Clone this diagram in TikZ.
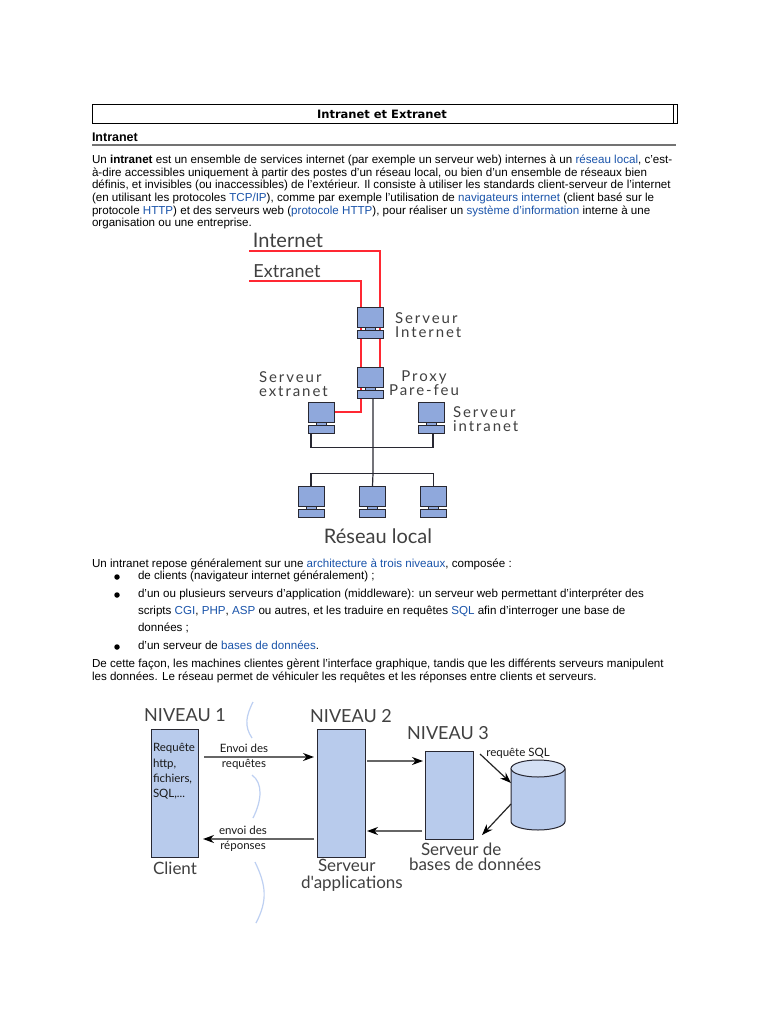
\documentclass[tikz,border=0pt]{standalone}
\usepackage{fontspec}
\setmainfont{Liberation Sans}
\newfontfamily\titrefont{DejaVu Sans}
\newfontfamily\fontmain{Lato}
\newfontfamily\fontlarge[LetterSpace=13]{Lato}
\usepackage{xcolor}
\usetikzlibrary{arrows.meta, positioning, shapes.geometric, calc}
\definecolor{lienbleu}{RGB}{26, 84, 170}
\definecolor{ecranbleu}{RGB}{143, 168, 220}
\definecolor{boitebleu}{RGB}{184, 203, 236}
\definecolor{vaguebleu}{RGB}{190, 208, 242}
\definecolor{trait}{RGB}{40, 40, 50}
\definecolor{rougelien}{RGB}{255, 40, 50}
\newcommand{\lien}[1]{\textcolor{lienbleu}{#1}}
\newcommand{\poste}[3]{%
  \node[ecran, anchor=north west] (#1) at (#2,#3) {};
  \node[socle, below=3pt of #1] (#1-b) {};
  \node[cou, below=0pt of #1] (#1-c) {};
}

\begin{document}
\begin{tikzpicture}[
  x=1pt, y=-1pt,
  every node/.style={inner sep=0pt, outer sep=0pt},
  texte/.style={font=\fontsize{11.6}{12.65}\selectfont, align=left, anchor=north west},
  puce/.style={circle, fill=black, minimum size=5.5pt},
  ecran/.style={draw=trait, fill=ecranbleu, line width=1pt, minimum width=26pt, minimum height=20pt},
  socle/.style={draw=trait, fill=ecranbleu, line width=1pt, minimum width=26pt, minimum height=8pt},
  cou/.style={draw=trait, fill=ecranbleu, line width=0.6pt, minimum width=10pt, minimum height=3pt},
  main/.style={font=\fontmain\fontsize{17}{15}\selectfont, text=black!75, align=left},
  large/.style={font=\fontlarge\fontsize{15}{14}\selectfont, text=black!75, align=left},
  petit/.style={font=\fontmain\fontsize{11.5}{15.3}\selectfont, text=black!90, align=left},
  niveau/.style={draw=trait, fill=boitebleu, line width=1pt, anchor=north west},
  rouge/.style={rougelien, line width=1.7pt},
  noir/.style={trait, line width=1.2pt},
  fleche/.style={-{Stealth[length=11pt, width=8pt, black]}, black!60, line width=1.2pt},
  vague/.style={vaguebleu, line width=1.2pt}
]
  \useasboundingbox (0,0) rectangle (768,1024);
  \fill[white] (0,0) rectangle (768,1024);

  % Titre
  \node[draw=black, line width=1pt, anchor=north west, minimum width=585pt, minimum height=19pt] (titre) at (92,105) {};
  \node[font=\titrefont\bfseries\fontsize{11.5}{13}\selectfont] (titretxt) at (382,114.5) {Intranet et Extranet};
  \draw[black, line width=1pt] ([xshift=-4pt]titre.north east) -- ([xshift=-4pt]titre.south east);
  \node[font=\bfseries\fontsize{12.5}{14}\selectfont, anchor=west] (intranet) at (92,137.5) {Intranet};
  \draw[black!55, line width=1.4pt] (intranet.west |- 0,145) coordinate (regleg) -- (676,145) coordinate (regled);

  % Premier paragraphe
  \node[texte] (para1) at (92,155) {Un \textbf{intranet} est un ensemble de services internet (par exemple un serveur web) internes à un \lien{réseau local}, c'est-\\
  à-dire accessibles uniquement à partir des postes d'un réseau local, ou bien d'un ensemble de réseaux bien\\
  définis, et invisibles (ou inaccessibles) de l'extérieur. Il consiste à utiliser les standards client-serveur de l'internet\\
  (en utilisant les protocoles \lien{TCP/IP}), comme par exemple l'utilisation de \lien{navigateurs internet} (client basé sur le\\
  protocole \lien{HTTP}) et des serveurs web (\lien{protocole HTTP}), pour réaliser un \lien{système d'information} interne à une\\
  organisation ou une entreprise.};

  % Liens rouges
  \coordinate (cinternet) at (249,251);
  \coordinate (cextranet) at (249,281);
  \draw[rouge] (cinternet) -| (380,367) coordinate (rougeA);
  \draw[rouge] (cextranet) -| (361,412) coordinate (rougeB) -- (334,412) coordinate (rougeC);

  % Postes du reseau
  \poste{srvinternet}{357}{307}
  \poste{proxy}{357}{367}
  \poste{srvextranet}{308}{402}
  \poste{srvintranet}{418}{402}
  \poste{lanA}{298}{486}
  \poste{lanB}{359.5}{486}
  \poste{lanC}{420.5}{486}

  % Liens noirs
  \coordinate (busA) at (373,447.5);
  \coordinate (busB) at (373,473.5);
  \draw[noir] ([xshift=3pt]proxy-b.south) -- (busA) -- (busB) -- (lanB.north);
  \draw[noir] ([xshift=-10pt]srvextranet-b.south) |- (busA) -| ([xshift=2pt]srvintranet-b.south);
  \draw[noir] (lanA.north) |- (busB) -| (lanC.north);

  % Etiquettes du reseau
  \node[main, font=\fontmain\fontsize{20}{20}\selectfont] (linternet) at (288,240) {Internet};
  \node[main, font=\fontmain\fontsize{18}{18}\selectfont] (lextranet) at (287,271) {Extranet};
  \node[large, anchor=west] (lsrvinternet) at (395,325.5) {Serveur\\Internet};
  \node[large, align=center] (lproxy) at (424,383) {Proxy\\Pare-feu};
  \node[large, anchor=west] (lsrvextranet) at (259,384.5) {Serveur\\extranet};
  \node[large, anchor=west] (lsrvintranet) at (453,419) {Serveur\\intranet};
  \node[main, font=\fontmain\fontsize{20}{20}\selectfont] (lreseau) at (378,536) {Réseau local};

  % Liste
  \node[texte] (intro) at (92,559) {Un intranet repose généralement sur une \lien{architecture à trois niveaux}, composée :};
  \node[puce] (puceA) at (117,577) {};
  \node[puce] (puceB) at (117,595) {};
  \node[puce] (puceC) at (117,647) {};
  \node[texte] (itemA) at (138,571) {de clients (navigateur internet généralement) ;};
  \node[texte, font=\fontsize{11.6}{17}\selectfont] (itemB) at (138,589) {d'un ou plusieurs serveurs d'application (middleware): un serveur web permettant d'interpréter des\\
  scripts \lien{CGI}, \lien{PHP}, \lien{ASP} ou autres, et les traduire en requêtes \lien{SQL} afin d'interroger une base de\\
  données ;};
  \node[texte] (itemC) at (138,641) {d'un serveur de \lien{bases de données}.};
  \node[texte] (para2) at (92,659) {De cette façon, les machines clientes gèrent l'interface graphique, tandis que les différents serveurs manipulent\\
  les données. Le réseau permet de véhiculer les requêtes et les réponses entre clients et serveurs.};

  % Vagues
  \draw[vague] (253,702) .. controls (246,716) and (244,726) .. (252,738);
  \draw[vague] (252,775) .. controls (263,783) and (262,800) .. (253,818);
  \draw[vague] (255,862) .. controls (266,885) and (268,900) .. (256,923);

  % Trois niveaux
  \node[niveau, minimum width=47pt, minimum height=128pt] (client) at (151,729) {};
  \node[niveau, minimum width=48pt, minimum height=128pt] (serveur) at (317,729) {};
  \node[niveau, minimum width=48pt, minimum height=88pt] (base) at (425,751) {};

  % Disque
  \node[minimum width=54pt, minimum height=53pt] (disque) at (538,795) {};
  \draw[draw=trait, fill=boitebleu, line width=1pt] (disque.north west) -- (disque.south west)
    arc[x radius=27pt, y radius=8.5pt, start angle=180, end angle=360] -- (disque.north east);
  \draw[draw=trait, fill=boitebleu!60!white, line width=1pt] (disque.north) ellipse [x radius=27pt, y radius=8.5pt];

  % Fleches
  \draw[fleche] ([shift={(6,28)}]client.north east) -- ([shift={(-3,28)}]serveur.north west);
  \draw[fleche] ([shift={(2,32)}]serveur.north east) -- ([shift={(-2,10)}]base.north west);
  \draw[fleche] ([shift={(-3,80)}]base.north west) -- ([shift={(2,102)}]serveur.north east);
  \draw[fleche] ([shift={(-3,110)}]serveur.north west) -- ([shift={(5,110)}]client.north east);
  \coordinate (sqlA) at (480,754);
  \coordinate (sqlB) at (482,835);
  \draw[fleche, black!85] (sqlA) -- ([yshift=12pt]disque.west);
  \draw[fleche, black!85] ([yshift=-9pt]disque.west) -- (sqlB);

  % Etiquettes des niveaux
  \node[main, font=\fontmain\fontsize{18}{18}\selectfont] (lniveauA) at (185,715) {NIVEAU 1};
  \node[main, font=\fontmain\fontsize{18}{18}\selectfont] (lniveauB) at (351,716) {NIVEAU 2};
  \node[main, font=\fontmain\fontsize{18}{18}\selectfont] (lniveauC) at (448,733) {NIVEAU 3};
  \node[petit, anchor=north west] (lrequete) at (153,743.5) {Requête\\http,\\fichiers,\\SQL,...};
  \node[petit, align=center] (lenvoiA) at (244,756.5) {Envoi des\\requêtes};
  \node[petit, align=center] (lenvoiB) at (243,839) {envoi des\\réponses};
  \node[petit] (lsql) at (518,753) {requête SQL};
  \node[main] (lclient) at (175,868) {Client};
  \node[main, font=\fontmain\fontsize{17}{17}\selectfont, anchor=north west] (lserveur) at (301,859) {\hspace*{17pt}Serveur\\d'applications};
  \node[main, anchor=north west] (lbases) at (409,843) {\hspace*{12pt}Serveur de\\bases de données};
\end{tikzpicture}
\end{document}
